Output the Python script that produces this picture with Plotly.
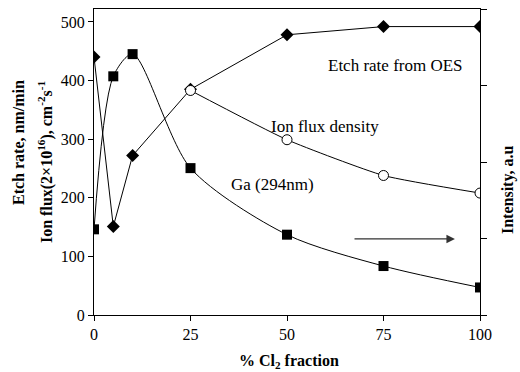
import plotly.graph_objects as go

cl2 = [0, 5, 10, 25, 50, 75, 100]
etch_rate = [440, 151, 272, 385, 478, 492, 492]
ion_x = [25, 50, 75, 100]
ion_flux = [383, 299, 238, 208]
ga_intensity = [1.12, 3.12, 3.41, 1.92, 1.05, 0.64, 0.36]

x_ticks = [0, 25, 50, 75, 100]
y_ticks = [0, 100, 200, 300, 400, 500]
y2_ticks = [0, 1, 2, 3, 4]

FONT = "'Liberation Serif', 'Times New Roman', Times, serif"

fig = go.Figure()
fig.add_trace(go.Scatter(
    x=cl2, y=etch_rate, mode="lines+markers",
    line=dict(color="black", width=1),
    marker=dict(symbol="diamond", size=10, color="black"),
    yaxis="y"))
fig.add_trace(go.Scatter(
    x=ion_x, y=ion_flux, mode="lines+markers",
    line=dict(color="black", width=1, shape="spline", smoothing=0.5),
    marker=dict(symbol="circle", size=10, color="white", line=dict(color="black", width=1)),
    yaxis="y"))
fig.add_trace(go.Scatter(
    x=cl2, y=ga_intensity, mode="lines+markers",
    line=dict(color="black", width=1, shape="spline", smoothing=0.8),
    marker=dict(symbol="square", size=10, color="black"),
    yaxis="y2"))

fig.update_layout(
    width=520, height=372,
    margin=dict(l=94, r=40, t=9, b=57),
    paper_bgcolor="white", plot_bgcolor="white",
    showlegend=False,
    font=dict(family=FONT, size=16, color="black"),
    xaxis=dict(range=[0, 100], tickvals=x_ticks, showgrid=False, zeroline=False,
               showline=True, linecolor="black", linewidth=1, mirror=True,
               ticks="outside", ticklen=5, tickcolor="black",
               tickfont=dict(family=FONT, size=16)),
    yaxis=dict(range=[0, 522], tickvals=y_ticks, showgrid=False, zeroline=False,
               showline=True, linecolor="black", linewidth=1,
               ticks="outside", ticklen=5, tickcolor="black",
               tickfont=dict(family=FONT, size=16)),
    yaxis2=dict(range=[0, 4], tickvals=y2_ticks, showticklabels=False,
                overlaying="y", side="right", showgrid=False, zeroline=False,
                showline=True, linecolor="black", linewidth=1,
                ticks="outside", ticklen=6, tickcolor="black"),
)

annos = [
    dict(x=78, y=425, text="Etch rate from OES"),
    dict(x=59.8, y=321, text="Ion flux density"),
    dict(x=46.2, y=222, text="Ga (294nm)"),
]
for a in annos:
    fig.add_annotation(x=a["x"], y=a["y"], xref="x", yref="y", text=a["text"],
                       showarrow=False, font=dict(family=FONT, size=17, color="black"))

# arrow pointing to right axis
fig.add_annotation(x=93.5, y=129.7, ax=67.1, ay=129.7, xref="x", yref="y",
                   axref="x", ayref="y", text="", showarrow=True,
                   arrowhead=2, arrowsize=1.3, arrowwidth=1.3, arrowcolor="#333333")

# axis titles
fig.add_annotation(xref="paper", yref="paper", x=(289 - 94) / 386, y=-(362 - 315) / 306,
                   text="<b>% Cl<sub>2</sub> fraction</b>", showarrow=False,
                   font=dict(family=FONT, size=16), yanchor="middle")
fig.add_annotation(xref="paper", yref="paper", x=(508 - 94) / 386, y=(315 - 190) / 306,
                   text="<b>Intensity, a.u</b>", showarrow=False, textangle=-90,
                   font=dict(family=FONT, size=16), xanchor="center", yanchor="middle")
fig.add_annotation(xref="paper", yref="paper", x=(18 - 94) / 386, y=(315 - 143) / 306,
                   text="<b>Etch rate, nm/min</b>", showarrow=False, textangle=-90,
                   font=dict(family=FONT, size=16), xanchor="center", yanchor="middle")
fig.add_annotation(xref="paper", yref="paper", x=(45 - 94) / 386, y=(315 - 162) / 306,
                   text="<b>Ion flux(2×10<sup>16</sup>), cm<sup>-2</sup>s<sup>-1</sup></b>",
                   showarrow=False, textangle=-90,
                   font=dict(family=FONT, size=16), xanchor="center", yanchor="middle")

fig.write_html("out.html", config={"displayModeBar": False},
               post_script="document.body.style.margin='0';")
